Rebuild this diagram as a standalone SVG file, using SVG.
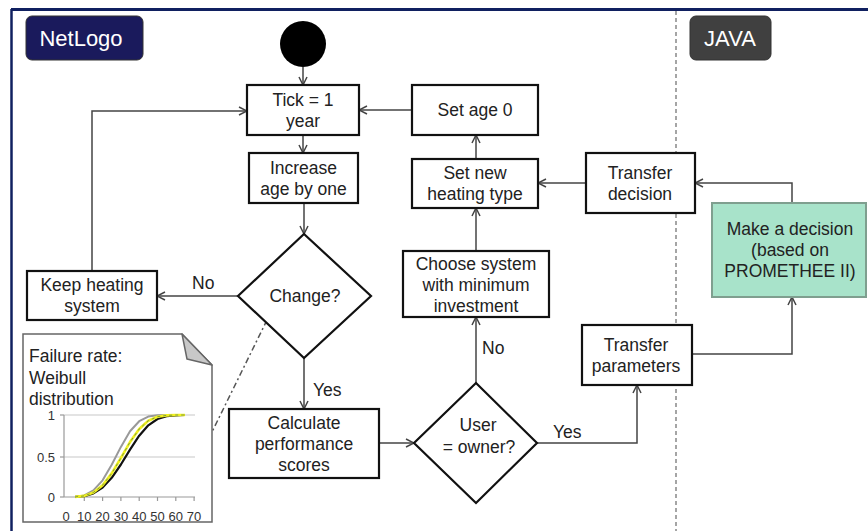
<svg xmlns="http://www.w3.org/2000/svg" width="868" height="531" viewBox="0 0 868 531">
<style>
.bx{fill:#fff;stroke:#111;stroke-width:2.2}
.t{font-family:"Liberation Sans",Arial,sans-serif;font-size:17.5px;fill:#222;text-anchor:middle}
.lb{font-family:"Liberation Sans",Arial,sans-serif;font-size:17.5px;fill:#222}
.c{fill:none;stroke:#444;stroke-width:1.5}
.ax{font-family:"Liberation Sans",Arial,sans-serif;font-size:13px;fill:#333}
.tag{font-family:"Liberation Sans",Arial,sans-serif;font-size:22px;fill:#fff;text-anchor:middle}
</style>
<defs>
<marker id="ah" viewBox="0 0 10 10" refX="9" refY="5" markerWidth="10" markerHeight="10" markerUnits="userSpaceOnUse" orient="auto">
<path d="M1,1 L9,5 L1,9" fill="none" stroke="#444" stroke-width="1.5"/>
</marker>
</defs>
<rect width="868" height="531" fill="#fff"/>
<g id="frame">
<line x1="11" y1="9.5" x2="868" y2="9.5" stroke="#102060" stroke-width="3"/>
<line x1="11.5" y1="9" x2="11.5" y2="531" stroke="#102060" stroke-width="2.5"/>
<line x1="676" y1="11" x2="676" y2="531" stroke="#888" stroke-width="1.5" stroke-dasharray="4 3"/>
</g>
<g id="netlogo-tag"><rect x="26" y="16" width="117" height="44" rx="6" fill="#1a1a5c" stroke="#333" stroke-width="1"/><text class="tag" x="81" y="46">NetLogo</text></g>
<g id="java-tag"><rect x="690" y="16" width="81" height="44" rx="6" fill="#404040" stroke="#333" stroke-width="1"/><text class="tag" x="730" y="46">JAVA</text></g>

<g id="connectors">
<line class="c" x1="303" y1="67" x2="303" y2="85" marker-end="url(#ah)"/>
<line class="c" x1="303" y1="135" x2="303" y2="153" marker-end="url(#ah)"/>
<line class="c" x1="304" y1="203" x2="304" y2="234" marker-end="url(#ah)"/>
<line class="c" x1="238" y1="296" x2="157" y2="296" marker-end="url(#ah)"/>
<polyline class="c" points="92,271 92,111 247,111" marker-end="url(#ah)"/>
<line class="c" x1="304" y1="358" x2="304" y2="409" marker-end="url(#ah)"/>
<line class="c" x1="379" y1="443" x2="414" y2="443" marker-end="url(#ah)"/>
<line class="c" x1="476" y1="383" x2="476" y2="317" marker-end="url(#ah)"/>
<line class="c" x1="476" y1="251" x2="476" y2="208" marker-end="url(#ah)"/>
<line class="c" x1="476" y1="159" x2="476" y2="135" marker-end="url(#ah)"/>
<line class="c" x1="412" y1="110" x2="359" y2="110" marker-end="url(#ah)"/>
<polyline class="c" points="537,443 637,443 637,385" marker-end="url(#ah)"/>
<polyline class="c" points="692,354 792,354 792,297" marker-end="url(#ah)"/>
<polyline class="c" points="792,203 792,183 695,183" marker-end="url(#ah)"/>
<line class="c" x1="586" y1="183" x2="538" y2="183" marker-end="url(#ah)"/>
<line x1="267" y1="320" x2="212" y2="432" stroke="#555" stroke-width="1.5" stroke-dasharray="6 3 2 3"/>
<text class="lb" x="192" y="289">No</text>
<text class="lb" x="482" y="354">No</text>
<text class="lb" x="313" y="396">Yes</text>
<text class="lb" x="553" y="438">Yes</text>
</g>

<g id="start"><circle cx="303" cy="44" r="23" fill="#000"/></g>
<g id="tick"><rect class="bx" x="247" y="85" width="112" height="50"/><text class="t" x="303" y="105.5">Tick = 1</text><text class="t" x="303" y="126.5">year</text></g>
<g id="increase"><rect class="bx" x="249" y="153" width="109" height="50"/><text class="t" x="303.5" y="173.5">Increase</text><text class="t" x="303.5" y="194.5">age by one</text></g>
<g id="change"><polygon class="bx" points="304,234 371,296 304,358 238,296"/><text class="t" x="305" y="302">Change?</text></g>
<g id="keep"><rect class="bx" x="27" y="271" width="130" height="49"/><text class="t" x="92" y="291">Keep heating</text><text class="t" x="92" y="312">system</text></g>
<g id="calc"><rect class="bx" x="229" y="409" width="150" height="69"/><text class="t" x="304" y="429">Calculate</text><text class="t" x="304" y="450">performance</text><text class="t" x="304" y="471">scores</text></g>
<g id="user"><polygon class="bx" points="476,383 537,443 476,503 414,443"/><text class="t" x="478" y="431">User</text><text class="t" x="479" y="453">= owner?</text></g>
<g id="choose"><rect class="bx" x="403" y="251" width="146" height="66"/><text class="t" x="476" y="270">Choose system</text><text class="t" x="476" y="291">with minimum</text><text class="t" x="476" y="312">investment</text></g>
<g id="setnew"><rect class="bx" x="412" y="159" width="126" height="49"/><text class="t" x="475" y="179">Set new</text><text class="t" x="475" y="200">heating type</text></g>
<g id="setage"><rect class="bx" x="412" y="85" width="126" height="50"/><text class="t" x="475" y="116">Set age 0</text></g>
<g id="tdecision"><rect class="bx" x="586" y="153" width="109" height="60"/><text class="t" x="640" y="178.5">Transfer</text><text class="t" x="640" y="199.5">decision</text></g>
<g id="tparams"><rect class="bx" x="582" y="325" width="110" height="60"/><text class="t" x="636" y="350.5">Transfer</text><text class="t" x="636" y="371.5">parameters</text></g>
<g id="decision"><rect x="712" y="203" width="154" height="94" fill="#a8e3ca" stroke="#7f9f8f" stroke-width="2"/><text class="t" x="790" y="235">Make a decision</text><text class="t" x="790" y="256">(based on</text><text class="t" x="790" y="277">PROMETHEE II)</text></g>

<g id="note">
<path d="M23,334 L182,334 L212,365 L212,522 L23,522 Z" fill="#fff" stroke="#666" stroke-width="1.5"/>
<path d="M182,334 L187,359 L212,365 Z" fill="#c8c8c8" stroke="#666" stroke-width="1.5" stroke-linejoin="round"/>
<text class="lb" x="29" y="362">Failure rate:</text>
<text class="lb" x="29" y="384">Weibull</text>
<text class="lb" x="29" y="405">distribution</text>
<g stroke="#c8c8c8" stroke-width="1.2">
<line x1="64" y1="415" x2="195" y2="415"/>
<line x1="64" y1="457" x2="195" y2="457"/>
</g>
<g stroke="#999" stroke-width="1.2">
<line x1="64" y1="415" x2="64" y2="497"/>
<line x1="64" y1="497" x2="195" y2="497"/>
<line x1="60" y1="415" x2="64" y2="415"/>
<line x1="60" y1="457" x2="64" y2="457"/>
<line x1="60" y1="497" x2="64" y2="497"/>
<line x1="84.3" y1="497" x2="84.3" y2="501"/>
<line x1="102.6" y1="497" x2="102.6" y2="501"/>
<line x1="120.9" y1="497" x2="120.9" y2="501"/>
<line x1="139.2" y1="497" x2="139.2" y2="501"/>
<line x1="157.5" y1="497" x2="157.5" y2="501"/>
<line x1="175.8" y1="497" x2="175.8" y2="501"/>
<line x1="194.1" y1="497" x2="194.1" y2="501"/>
</g>
<text class="ax" x="55" y="420" text-anchor="end">1</text>
<text class="ax" x="55" y="462" text-anchor="end">0.5</text>
<text class="ax" x="55" y="502" text-anchor="end">0</text>
<g class="ax" text-anchor="middle">
<text x="66" y="521">0</text><text x="84.3" y="521">10</text><text x="102.6" y="521">20</text><text x="120.9" y="521">30</text><text x="139.2" y="521">40</text><text x="157.5" y="521">50</text><text x="175.8" y="521">60</text><text x="194.1" y="521">70</text>
</g>
<polyline fill="none" stroke="#999" stroke-width="2" stroke-linejoin="round" points="75.1,496.9 84.3,495.4 93.4,490.4 102.6,480.3 111.7,464.8 120.9,446.9 130,431.2 139.2,421.2 148.3,416.6 157.5,415.3 166.6,415 175.7,415 184.9,415"/>
<polyline fill="none" stroke="#111" stroke-width="2.2" stroke-linejoin="round" points="75.1,496.9 84.3,496.1 93.4,493.4 102.6,487.6 111.7,477.8 120.9,464.5 130,449.6 139.2,435.7 148.3,425.3 157.5,419 166.6,416.2 175.7,415.3 184.9,415"/>
<polyline fill="none" stroke="#f0f020" stroke-width="2.6" stroke-linejoin="round" points="75.1,496.9 84.3,495.9 93.4,492.5 102.6,485.2 111.7,473.4 120.9,458 130,442.1 139.2,429 148.3,420.7 157.5,416.7 166.6,415.4 175.7,415 184.9,415"/>
<polyline fill="none" stroke="#7a9a40" stroke-width="1" stroke-dasharray="3 3" stroke-linejoin="round" points="75.1,496.9 84.3,495.9 93.4,492.5 102.6,485.2 111.7,473.4 120.9,458 130,442.1 139.2,429 148.3,420.7 157.5,416.7 166.6,415.4 175.7,415 184.9,415"/>
</g>
</svg>
